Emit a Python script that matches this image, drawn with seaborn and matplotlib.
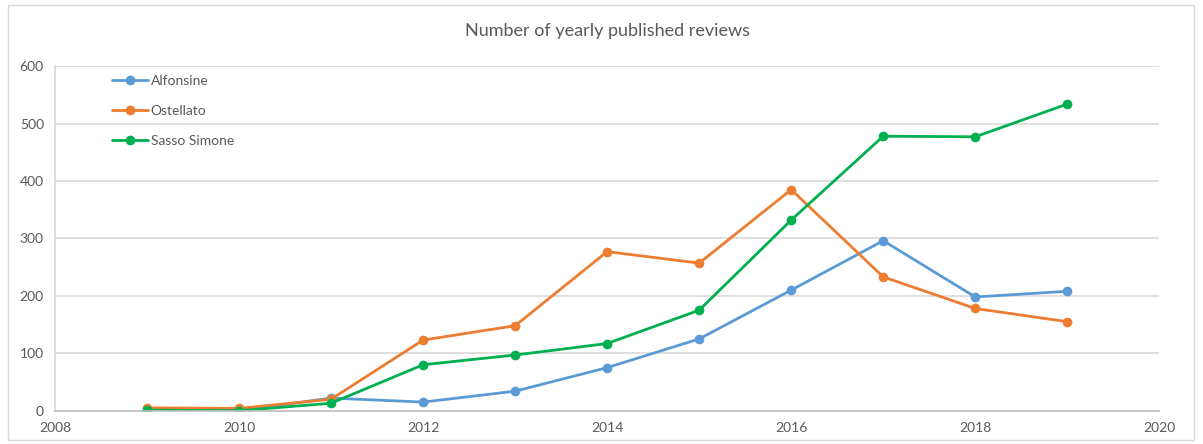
import matplotlib
matplotlib.use("Agg")
import matplotlib.pyplot as plt
from matplotlib.patches import Rectangle
import seaborn as sns
import pandas as pd

# values
years = [2009, 2010, 2011, 2012, 2013, 2014, 2015, 2016, 2017, 2018, 2019]
alfonsine = [0, 0, 22, 15, 34, 75, 125, 210, 296, 198, 208]
ostellato = [5, 4, 20, 123, 148, 277, 257, 385, 233, 178, 155]
sasso_simone = [1, 0, 13, 80, 97, 117, 175, 332, 478, 477, 534]

series_names = ["Alfonsine", "Ostellato", "Sasso Simone"]
colors = ["#5B9BD5", "#ED7D31", "#00B050"]

df = pd.DataFrame({
    "year": years * 3,
    "reviews": alfonsine + ostellato + sasso_simone,
    "site": [n for n in series_names for _ in years],
})

sns.set_style("white")
plt.rcParams["font.family"] = ["Lato", "DejaVu Sans"]

fig = plt.figure(figsize=(12.03, 4.44), dpi=100)
ax = fig.add_axes([0.0457, 0.075, 0.918, 0.776])

sns.lineplot(data=df, x="year", y="reviews", hue="site", palette=colors,
             marker="o", markersize=7, markeredgewidth=0, linewidth=2,
             ax=ax)

ax.set_xlim(2008, 2020)
ax.set_ylim(0, 600)
ax.set_xticks(range(2008, 2021, 2))
ax.set_yticks(range(0, 601, 100))
ax.grid(axis="y", color="#d9d9d9", linewidth=1.2)
ax.set_axisbelow(True)
ax.tick_params(axis="both", length=0, labelsize=10, labelcolor="#595959", pad=8)
ax.set_xlabel("")
ax.set_ylabel("")
for side in ["top", "right"]:
    ax.spines[side].set_visible(False)
ax.spines["left"].set_color("#d9d9d9")
ax.spines["bottom"].set_color("#bfbfbf")
ax.spines["left"].set_linewidth(1.2)
ax.spines["bottom"].set_linewidth(1.2)

ax.set_title("Number of yearly published reviews", fontsize=13, color="#595959", pad=22)

leg = ax.legend(loc="upper left", bbox_to_anchor=(0.04, 1.01), frameon=False,
                fontsize=10, labelcolor="#595959", handlelength=2.6,
                handletextpad=0.2, labelspacing=1.3)

fig.patches.append(Rectangle((8 / 1203, 4 / 444), 1186 / 1203, 435 / 444,
                             transform=fig.transFigure, fill=False,
                             edgecolor="#d9d9d9", linewidth=1))

fig.savefig("out.png", dpi=100)
